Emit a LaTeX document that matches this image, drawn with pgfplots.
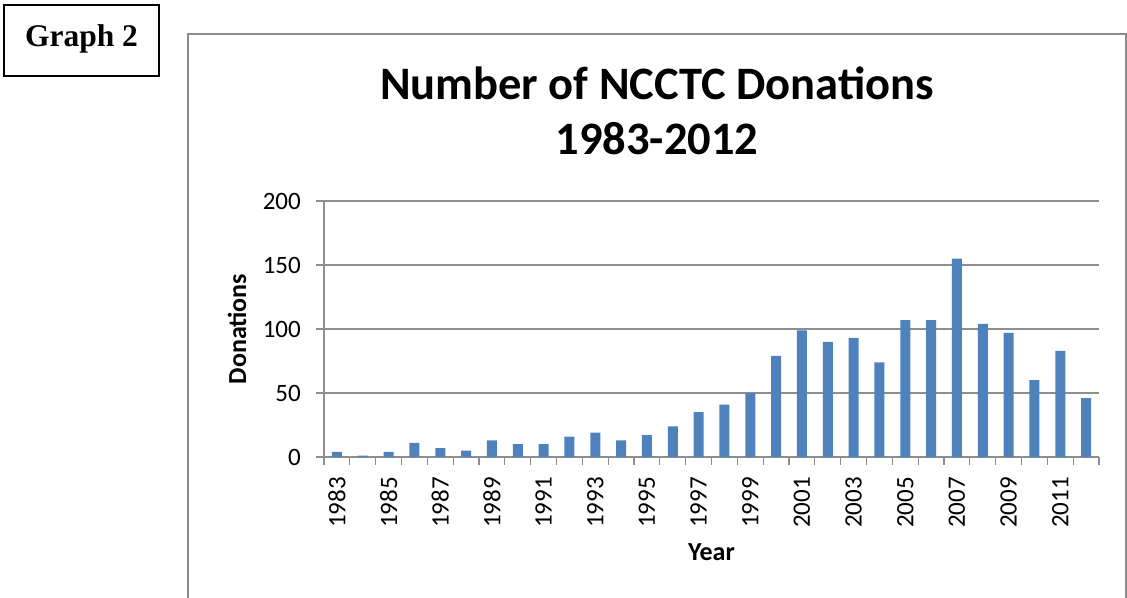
\documentclass[border=0pt]{standalone}
\usepackage{fontspec}
\setmainfont{Carlito}
\newfontfamily\timesfont{Liberation Serif}
\usepackage{pgfplots}
\pgfplotsset{compat=1.18}
\definecolor{barblue}{HTML}{4F81BD}
\definecolor{framegray}{HTML}{8C8C8C}
\definecolor{gridgray}{HTML}{8E8E8E}
\begin{document}
\begin{tikzpicture}
\path[use as bounding box] (0,0) rectangle (1127bp,-598bp);
% outer chart frame
\draw[framegray, line width=2.2bp] (188bp,-600bp) -- (188bp,-34bp) -- (1126bp,-34bp) -- (1126bp,-600bp);
% Graph 2 box
\draw[black, line width=2.4bp] (4bp,-5bp) rectangle (159bp,-76bp);
\node[font=\timesfont\bfseries\fontsize{31.5bp}{36bp}\selectfont] at (81.5bp,-39bp) {Graph 2};
% title
\node[font=\bfseries\fontsize{46.5bp}{55bp}\selectfont, align=center] at (657bp,-111bp) {Number of NCCTC Donations\\1983-2012};
\begin{axis}[
  at={(324bp,-457bp)}, anchor=south west,
  scale only axis, width=775bp, height=256bp,
  ymin=0, ymax=200, ytick={0,50,...,200},
  xmin=-0.5, xmax=29.5,
  xtick={0,2,...,28},
  xticklabels={1983,1985,1987,1989,1991,1993,1995,1997,1999,2001,2003,2005,2007,2009,2011},
  minor xtick={-0.5,0.5,...,29.5},
  axis lines*=left,
  axis line style={gridgray, line width=1.1bp, -},
  tick align=outside,
  major tick length=8bp, minor tick length=8bp,
  major x tick style={draw=none},
  every tick/.style={gridgray, line width=1.1bp},
  minor tick style={gridgray, line width=1.1bp},
  ymajorgrids, major grid style={gridgray, line width=1.1bp},
  /pgf/number format/assume math mode=true,
  ticklabel style={font=\fontsize{25bp}{30bp}\selectfont},
  xticklabel style={rotate=90, anchor=east, inner sep=0bp},
  xticklabel shift=12bp,
  yticklabel style={inner sep=0bp},
  yticklabel shift=15bp,
  xlabel={Year}, ylabel={Donations},
  label style={font=\bfseries\fontsize{26bp}{30bp}\selectfont},
  xlabel style={at={(axis description cs:0.5,-0.406)}, anchor=base, inner sep=0bp},
  ylabel style={at={(axis description cs:-0.1123,0.5)}, anchor=center, inner sep=0bp},
  ybar, bar width=10bp,
  clip=false,
]
\addplot[fill=barblue, draw=none] coordinates {
(0,4) (1,1) (2,4) (3,11) (4,7) (5,5) (6,13) (7,10) (8,10) (9,16)
(10,19) (11,13) (12,17) (13,24) (14,35) (15,41) (16,50) (17,79) (18,99) (19,90)
(20,93) (21,74) (22,107) (23,107) (24,155) (25,104) (26,97) (27,60) (28,83) (29,46)
};
\end{axis}
\end{tikzpicture}
\end{document}
